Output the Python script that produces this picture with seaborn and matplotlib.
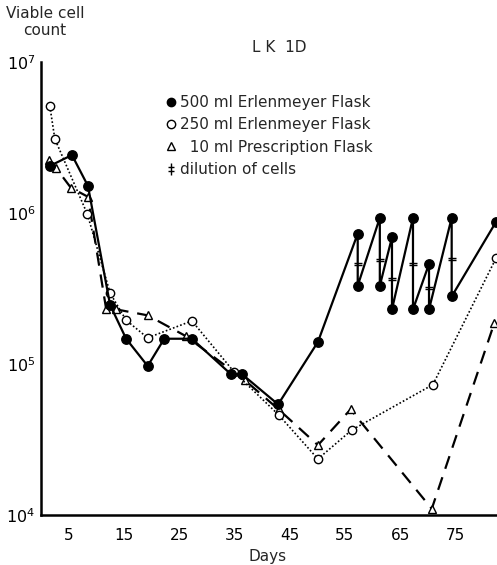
import numpy as np
import pandas as pd
import matplotlib
matplotlib.use("Agg")
import matplotlib.pyplot as plt
import seaborn as sns
from matplotlib.path import Path
from matplotlib.lines import Line2D
from matplotlib.ticker import FixedLocator, LogLocator, NullFormatter, FixedFormatter

# ---- data ----
days_500 = [1.6, 5.6, 8.5, 12.5, 15.4, 19.3, 22.3, 27.3, 34.3, 36.3, 42.9, 50.1,
            57.3, 57.3, 61.3, 61.3, 63.5, 63.5, 67.3, 67.3, 70.2, 70.2, 74.3, 74.3, 82.3]
counts_500 = [2.05e6, 2.42e6, 1.51e6, 2.46e5, 1.47e5, 9.7e4, 1.47e5, 1.47e5, 8.6e4, 8.6e4, 5.4e4, 1.4e5,
              7.3e5, 3.3e5, 9.3e5, 3.3e5, 6.9e5, 2.3e5, 9.3e5, 2.3e5, 4.6e5, 2.3e5, 9.3e5, 2.8e5, 8.7e5]

days_250 = [1.6, 2.5, 8.4, 12.5, 15.4, 19.3, 27.3, 35.0, 43.0, 50.1, 56.2, 70.9, 82.3]
counts_250 = [5.1e6, 3.1e6, 9.8e5, 2.95e5, 1.95e5, 1.49e5, 1.93e5, 8.8e4, 4.6e4, 2.35e4, 3.65e4, 7.3e4, 5.0e5]

days_10 = [1.5, 2.7, 5.4, 8.5, 11.8, 13.6, 19.3, 26.2, 36.9, 43.0, 50.1, 56.0, 70.7, 82.0]
counts_10 = [2.25e6, 1.99e6, 1.47e6, 1.28e6, 2.3e5, 2.3e5, 2.1e5, 1.53e5, 7.8e4, 5.0e4, 2.9e4, 5.0e4, 1.1e4, 1.86e5]

dilution_days = [57.3, 61.3, 63.5, 67.3, 70.2, 74.3]
dilution_counts = [4.6e5, 4.9e5, 3.66e5, 4.6e5, 3.18e5, 4.95e5]

x_major_ticks = [5, 15, 25, 35, 45, 55, 65, 75]
x_minor_ticks = [1.3, 10, 20, 30, 40, 50, 60, 70, 80]
x_tick_labels = ["5", "15", "25", "35", "45", "55", "65", "75"]

legend_labels = ["500 ml Erlenmeyer Flask", "250 ml Erlenmeyer Flask",
                 "  10 ml Prescription Flask", "dilution of cells"]
title_text = "L K  1D"
ylabel_text = "Viable cell\ncount"
xlabel_text = "Days"

# ---- figure ----
sns.set_style("white")
plt.rcParams['font.family'] = ['DejaVu Sans']

fig = plt.figure(figsize=(4.97, 5.65), dpi=100)
ax = fig.add_axes([41 / 497, 50 / 565, 456 / 497, 453 / 565])
ax.set_yscale("log")

df500 = pd.DataFrame({"day": days_500, "count": counts_500})
df250 = pd.DataFrame({"day": days_250, "count": counts_250})
df10 = pd.DataFrame({"day": days_10, "count": counts_10})
dfd = pd.DataFrame({"day": dilution_days, "count": dilution_counts})

sns.lineplot(data=df10, x="day", y="count", ax=ax, sort=False, estimator=None,
             color="black", lw=1.6, linestyle=(0, (6, 4)), marker="^", markersize=6,
             markerfacecolor="white", markeredgecolor="black", markeredgewidth=1.0, zorder=2)
sns.lineplot(data=df250, x="day", y="count", ax=ax, sort=False, estimator=None,
             color="black", lw=1.2, linestyle=(0, (1, 1.3)), marker="o", markersize=6,
             markerfacecolor="white", markeredgecolor="black", markeredgewidth=1.0, zorder=3)
sns.lineplot(data=df500, x="day", y="count", ax=ax, sort=False, estimator=None,
             color="black", lw=1.6, linestyle="-", marker="o", markersize=6.8,
             markerfacecolor="black", markeredgecolor="black", markeredgewidth=1.0, zorder=4)

dil_path = Path([(-1, 0.3), (1, 0.3), (-1, -0.3), (1, -0.3)],
                [Path.MOVETO, Path.LINETO, Path.MOVETO, Path.LINETO])
sns.scatterplot(data=dfd, x="day", y="count", ax=ax, marker=dil_path, s=30,
                color="black", edgecolor="black", linewidth=1.0, zorder=5)

ax.set_xlim(0, 82.5)
ax.set_ylim(1e4, 1e7)

# spines
for s in ["top", "right"]:
    ax.spines[s].set_visible(False)
for s in ["left", "bottom"]:
    ax.spines[s].set_linewidth(1.8)
    ax.spines[s].set_color("black")

# ticks
ax.xaxis.set_major_locator(FixedLocator(x_major_ticks))
ax.xaxis.set_major_formatter(FixedFormatter(x_tick_labels))
ax.xaxis.set_minor_locator(FixedLocator(x_minor_ticks))
ax.yaxis.set_major_locator(LogLocator(base=10, numticks=10))
ax.yaxis.set_minor_locator(LogLocator(base=10, subs=np.arange(2, 10), numticks=20))
ax.yaxis.set_minor_formatter(NullFormatter())

ax.tick_params(axis="x", which="major", direction="in", length=9, width=1.2,
               labelsize=11, pad=9, colors="black")
ax.tick_params(axis="x", which="minor", direction="in", length=5.5, width=1.2)
ax.tick_params(axis="y", which="major", direction="in", length=10, width=1.2,
               labelsize=11.5, pad=4, colors="black")
ax.tick_params(axis="y", which="minor", direction="in", length=5.5, width=1.2)

ax.set_xlabel("")
ax.set_ylabel("")
fig.text(268 / 497, 1 - 556 / 565, xlabel_text, ha="center", va="center", fontsize=11)
fig.text(45 / 497, 1 - 22 / 565, ylabel_text, ha="center", va="center", fontsize=11,
         linespacing=1.15)
fig.text(279 / 497, 1 - 47 / 565, title_text, ha="center", va="center", fontsize=11)

# legend
handles = [
    Line2D([], [], ls="none", marker="o", markersize=6, mfc="black", mec="black"),
    Line2D([], [], ls="none", marker="o", markersize=6, mfc="white", mec="black"),
    Line2D([], [], ls="none", marker="^", markersize=5.5, mfc="white", mec="black"),
    Line2D([], [], ls="none", marker=Path([(0, -1), (0, 1), (-0.6, 0.3), (0.6, 0.3), (-0.6, -0.3), (0.6, -0.3)],
                                          [Path.MOVETO, Path.LINETO, Path.MOVETO, Path.LINETO, Path.MOVETO, Path.LINETO]),
           markersize=8, color="black", markeredgewidth=1.0),
]
leg = ax.legend(handles, legend_labels, loc="upper left",
                bbox_to_anchor=(166 / 497, 1 - 95 / 565), bbox_transform=fig.transFigure,
                frameon=False, handlelength=0.6, handletextpad=0.3, labelspacing=0.48,
                borderpad=0, borderaxespad=0, fontsize=11)

fig.savefig("out.png", dpi=100)
